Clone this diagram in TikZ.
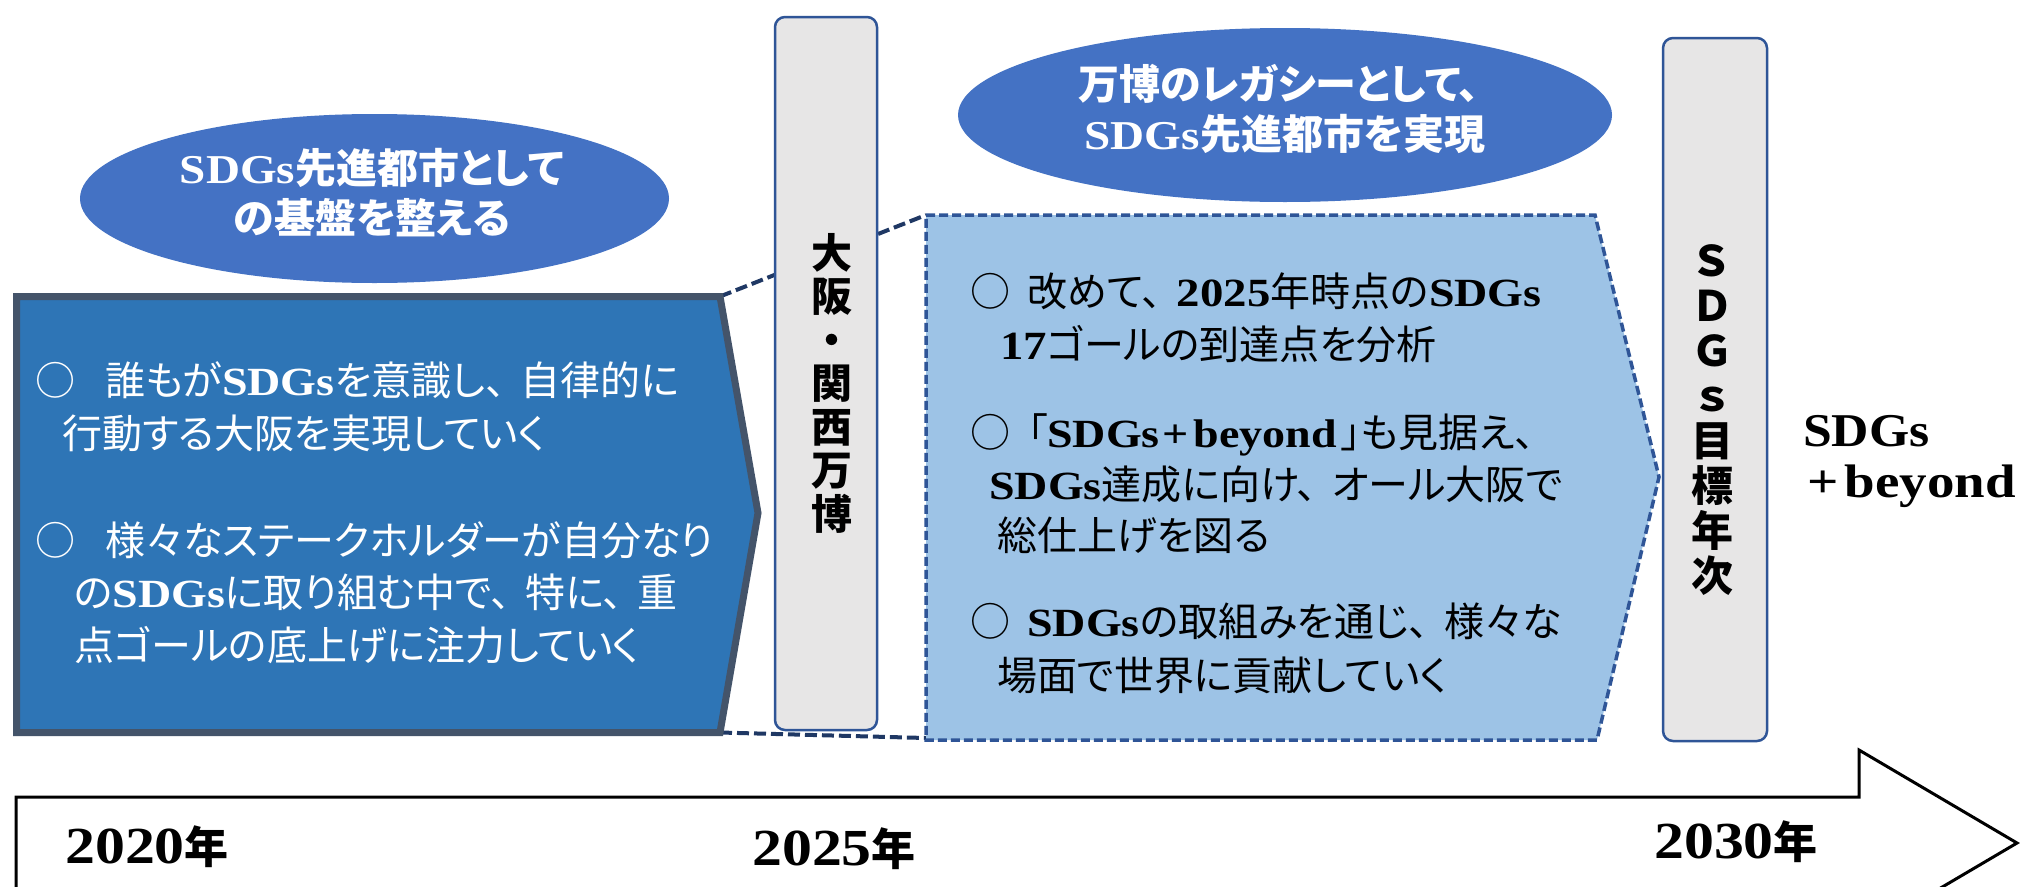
\documentclass[tikz,border=0pt]{standalone}
\usepackage{fontspec}
\usetikzlibrary{shapes.geometric}
\setmainfont{Noto Sans CJK JP}[RawFeature=+palt]
\newfontfamily\serb{Liberation Serif}[FakeStretch=1.15]
\newfontfamily\serc{Liberation Serif}[FakeStretch=1.1]
\newfontfamily\serd{Liberation Serif}[FakeStretch=1.17]
\newcommand\sdg{{\serb\bfseries SDGs}}
\newcommand\tnp{、\hspace{15pt}}
\definecolor{ellblue}{HTML}{4472C4}
\definecolor{darkfill}{HTML}{2E75B6}
\definecolor{darkedge}{HTML}{44546A}
\definecolor{lightfill}{HTML}{9DC3E6}
\definecolor{lightedge}{HTML}{2F5597}
\definecolor{boxfill}{HTML}{E7E6E6}
\definecolor{boxedge}{HTML}{2F5597}
\definecolor{conncol}{HTML}{1F3864}
\begin{document}
\begin{tikzpicture}[x=1pt,y=-1pt,
  ellbox/.style={ellipse, fill=ellblue, draw=none, inner sep=0pt},
  elltxt/.style={anchor=base, inner sep=0pt, text=white, font=\fontsize{41}{49}\selectfont\bfseries},
  bodytxt/.style={anchor=base west, inner sep=0pt, font=\fontsize{40}{48}\selectfont},
  graybox/.style={rectangle, rounded corners=10pt, fill=boxfill, draw=boxedge, line width=2.5pt, inner sep=0pt},
  vtxt/.style={align=center, inner sep=0pt, font=\fontsize{41}{43.5}\selectfont\bfseries},
  conn/.style={draw=conncol, line width=4pt, dash pattern=on 12pt off 5pt},
  yeartxt/.style={anchor=base west, inner sep=0pt, font=\fontsize{52}{60}\selectfont},
  beytxt/.style={anchor=base west, inner sep=0pt, font=\fontsize{47}{55}\selectfont\bfseries}]
\useasboundingbox (0,0) rectangle (2033,886);
\clip (0,0) rectangle (2033,886);
\fill[white] (0,0) rectangle (2033,886);

% timeline arrow
\draw[black, line width=3pt, fill=white, line join=miter]
  (16,900) -- (16,797) -- (1859,797) -- (1859,750) -- (2017,843) -- (1859,936) -- (1859,889) -- (16,889) -- cycle;

% ellipses
\node[ellbox, minimum width=589pt, minimum height=169pt] (ell1) at (374.5,198.5) {};
\node[elltxt] (ell1a) at (372,183) {\sdg 先進都市として};
\node[elltxt] (ell1b) at (372,233) {の基盤を整える};
\node[ellbox, minimum width=654pt, minimum height=174pt] (ell2) at (1285,115) {};
\node[elltxt] (ell2a) at (1279,99) {万博のレガシーとして、};
\node[elltxt] (ell2b) at (1285,149) {\sdg 先進都市を実現};

% corner coordinates
\coordinate (dTR) at (720,296.5);
\coordinate (dBR) at (720,732.5);
\coordinate (lTL) at (926,215);
\coordinate (lBL) at (926,738);

% connectors (behind the gray box)
\draw[conn] (dTR) -- (lTL);
\draw[conn] (dBR) -- (lBL);

% dark pentagon
\draw[fill=darkfill, draw=darkedge, line width=7pt, line join=miter]
  (16.5,296.5) -- (dTR) -- (758,513) -- (dBR) -- (16.5,732.5) -- cycle;

% light pentagon
\draw[fill=lightfill, draw=lightedge, line width=3.5pt, dash pattern=on 9pt off 4pt]
  (lTL) -- (1595,215) -- (1659,477) -- (1597,740) -- (926,740) -- cycle;

% gray boxes
\node[graybox, minimum width=102pt, minimum height=713pt] (expo) at (826,373.5) {};
\node[vtxt] (expotxt) at (832,383) {大\\阪\\・\\関\\西\\万\\博};
\node[graybox, minimum width=104pt, minimum height=703pt] (goal) at (1715,389.5) {};
\node[vtxt, font=\fontsize{42}{44.9}\selectfont\bfseries] (goaltxt) at (1712,420) {Ｓ\\Ｄ\\Ｇ\\ｓ\\目\\標\\年\\次};

% dark pentagon text
\begin{scope}[every node/.style={bodytxt, text=white}]
\node (d1) at (35,395) {○\hspace{30pt}誰もが\sdg を意識し\tnp 自律的に};
\node (d2) at (62,448) {行動する大阪を実現していく};
\node (d3) at (35,555) {○\hspace{30pt}様々なステークホルダーが自分なり};
\node (d4) at (74,607) {の\sdg に取り組む中で\tnp 特に\tnp 重};
\node (d5) at (74,660) {点ゴールの底上げに注力していく};
\end{scope}

% light pentagon text
\begin{scope}[every node/.style={bodytxt, text=black}]
\node (l1) at (970,306) {○\hspace{17pt}改めて\tnp{\serd\bfseries 2025}年時点の\sdg};
\node (l2) at (1000,359) {{\serd\bfseries 17}ゴールの到達点を分析};
\node (l3) at (970,447) {○\hspace{17pt}「{\serb\bfseries SDGs\hspace{3pt}+\hspace{5pt}beyond}\hspace{4pt}」も見据え、};
\node (l4) at (989,499) {\sdg 達成に向け\tnp オール大阪で};
\node (l5) at (997,550) {総仕上げを図る};
\node (l6) at (970,636) {○\hspace{17pt}\sdg の取組みを通じ\tnp 様々な};
\node (l7) at (997,690) {場面で世界に貢献していく};
\end{scope}

% right text
\node[beytxt] (bey1) at (1803,446) {\serc SDGs};
\node[beytxt] (bey2) at (1807,497) {\serd +\hspace{6pt}beyond};

% years
\node[yeartxt] (y2020) at (65,863) {{\serb\bfseries 2020}{\fontsize{44}{52}\selectfont\bfseries 年}};
\node[yeartxt] (y2025) at (752,865) {{\serb\bfseries 2025}{\fontsize{44}{52}\selectfont\bfseries 年}};
\node[yeartxt] (y2030) at (1654,858) {{\serb\bfseries 2030}{\fontsize{44}{52}\selectfont\bfseries 年}};
\end{tikzpicture}
\end{document}
